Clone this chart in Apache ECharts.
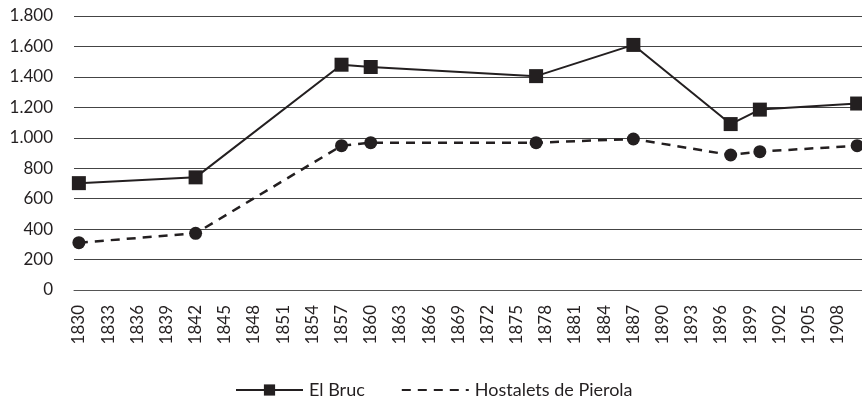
<!DOCTYPE html>
<html>
<head>
<meta charset="utf-8">
<script src="https://cdn.jsdelivr.net/npm/echarts@6/dist/echarts.min.js"></script>
<style>
html,body{margin:0;padding:0;background:#fff;}
#chart{width:862px;height:400px;}
</style>
</head>
<body>
<div id="chart"></div>
<script>
// Census years with data
var censusYears = ['1830', '1842', '1857', '1860', '1877', '1887', '1897', '1900', '1910'];
var elBruc = [702, 740, 1480, 1465, 1405, 1610, 1090, 1185, 1225];
var hostalets = [311, 372, 948, 968, 968, 992, 887, 909, 948];
var seriesNames = ['El Bruc', 'Hostalets de Pierola'];
var firstYear = 1830, lastYear = 1910, labelStep = 3;

var years = [];
for (var y = firstYear; y <= lastYear; y++) years.push(String(y));

function pairs(vals) {
  return censusYears.map(function (yr, i) { return [yr, vals[i]]; });
}
function fmt(v) {
  return String(v).replace(/\B(?=(\d{3})+(?!\d))/g, '.');
}

var ink = '#231f20';
var font = 'Lato';

var chart = echarts.init(document.getElementById('chart'), null, {renderer: 'canvas'});
chart.setOption({
  animation: false,
  backgroundColor: '#ffffff',
  grid: {left: 74, right: -2, top: 16, bottom: 110, containLabel: false},
  xAxis: {
    type: 'category',
    data: years,
    boundaryGap: true,
    axisLine: {show: true, lineStyle: {color: '#555', width: 1}},
    axisTick: {show: false},
    splitLine: {show: false},
    axisLabel: {
      rotate: 90,
      margin: 15,
      interval: function (idx) { return idx % labelStep === 0; },
      color: ink,
      fontFamily: font,
      fontSize: 17
    }
  },
  yAxis: {
    type: 'value',
    min: 0,
    max: 1800,
    interval: 200,
    axisLine: {show: false},
    axisTick: {show: false},
    splitLine: {show: true, lineStyle: {color: '#444', width: 1}},
    axisLabel: {
      margin: 21,
      color: ink,
      fontFamily: font,
      fontSize: 17,
      padding: [6, 0, 0, 0],
      formatter: fmt
    }
  },
  legend: {
    left: 235,
    top: 381,
    padding: 0,
    itemWidth: 67,
    itemHeight: 14,
    itemGap: 36,
    textStyle: {color: ink, fontFamily: font, fontSize: 18, padding: [0, 0, 0, 1]},
    data: [
      {name: seriesNames[0]},
      {name: seriesNames[1], itemStyle: {opacity: 0}}
    ]
  },
  series: [
    {
      name: seriesNames[0],
      type: 'line',
      data: pairs(elBruc),
      connectNulls: true,
      showAllSymbol: true,
      symbol: 'rect',
      symbolSize: 14,
      lineStyle: {color: ink, width: 2},
      itemStyle: {color: ink}
    },
    {
      name: seriesNames[1],
      type: 'line',
      data: pairs(hostalets),
      connectNulls: true,
      showAllSymbol: true,
      symbol: 'circle',
      symbolSize: 13,
      lineStyle: {color: ink, width: 2.5, type: [9, 7]},
      itemStyle: {color: ink}
    }
  ]
});
</script>
</body>
</html>
